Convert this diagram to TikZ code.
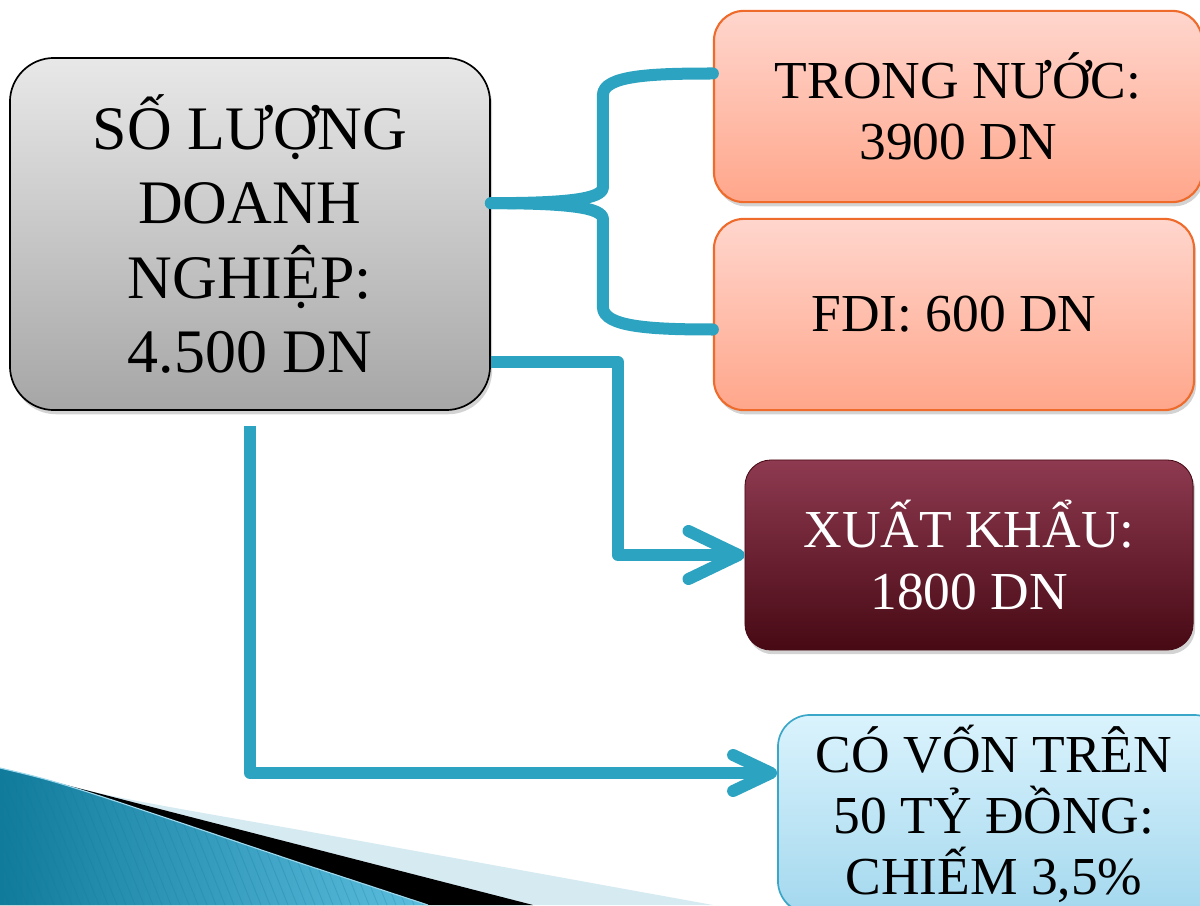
\documentclass[tikz,border=0pt]{standalone}
\usepackage{fontspec}
\setmainfont{Liberation Serif}
\usetikzlibrary{arrows.meta,calc,shadows}
\definecolor{linkteal}{HTML}{2CA3C0}
\definecolor{grytop}{HTML}{E8E8E8}
\definecolor{grybot}{HTML}{A6A6A6}
\definecolor{orgline}{HTML}{EE6B2B}
\definecolor{orgtop}{HTML}{FFD6CD}
\definecolor{orgbot}{HTML}{FFA68B}
\definecolor{martop}{HTML}{8E3A50}
\definecolor{marbot}{HTML}{470914}
\definecolor{skyline}{HTML}{3AA6C8}
\definecolor{skytop}{HTML}{DAF3FD}
\definecolor{skybot}{HTML}{A4D8EE}
\definecolor{decolight}{HTML}{D6EAF2}
\definecolor{decodark}{HTML}{117B9C}
\definecolor{decomid}{HTML}{5CBEDF}
\newcommand{\maintxt}{\fontsize{44}{53}\selectfont}
\newcommand{\boxtxt}{\fontsize{38}{43.5}\selectfont}
\tikzset{
  basebox/.style={rounded corners=0.75cm, align=center, inner sep=0pt,
                  drop shadow={opacity=0.35, shadow xshift=1.5pt, shadow yshift=-3pt}},
  graybox/.style={basebox, draw=black, line width=1.2pt, rounded corners=1.1cm,
                  top color=grytop, bottom color=grybot, font=\maintxt},
  salmonbox/.style={basebox, draw=orgline, line width=1.5pt,
                    top color=orgtop, bottom color=orgbot, font=\boxtxt},
  wine/.style={basebox, draw=marbot, line width=0.6pt, rounded corners=0.65cm,
               top color=martop, bottom color=marbot, text=white, font=\boxtxt},
  skybox/.style={basebox, draw=skyline, line width=1.2pt,
                 top color=skytop, bottom color=skybot, font=\boxtxt},
  link/.style={draw=linkteal, line width=0.3cm, line join=round},
  bigtip/.style={-{Straight Barb[length=1.25cm, width=1.2cm, round]}},
  smalltip/.style={-{Straight Barb[length=0.95cm, width=0.9cm, round]}}}

\begin{document}
\begin{tikzpicture}[x=0.025cm, y=-0.025cm]
  \useasboundingbox (0,0) rectangle (1200,905);

  % corner ornament
  \fill[decolight] (0,768) .. controls (100,795) .. (300,830) -- (713,905) -- (0,905) -- cycle;
  \fill[black] (0,768) -- (533,905) -- (0,905) -- cycle;
  \begin{scope}
    \clip (0,768) .. controls (60,782) .. (300,863) -- (428,905) -- (0,905) -- cycle;
    \shade[left color=decodark, right color=decomid] (0,760) rectangle (430,905);
    \foreach \k in {-400,-391,...,430}
      \draw[decodark, opacity=0.25, line width=0.6pt] (\k,760) -- ++(58,145);
  \end{scope}
  \draw[decomid!60!white, line width=0.8pt] (0,768) .. controls (60,782) .. (300,863) -- (428,905);

  \node[graybox, minimum width=12cm, minimum height=8.8cm] (main) at (250,234)
    {SỐ LƯỢNG\\DOANH\\NGHIỆP:\\4.500 DN};
  \node[salmonbox, minimum width=12.2cm, minimum height=4.78cm] (trong) at (958,106.5)
    {TRONG NƯỚC:\\3900 DN};
  \node[salmonbox, minimum width=12cm, minimum height=4.78cm] (fdi) at (954,314.5)
    {FDI: 600 DN};
  \node[wine, minimum width=11.2cm, minimum height=4.75cm] (xuat) at (969,555)
    {XUẤT KHẨU:\\1800 DN};
  \node[skybox, minimum width=11.2cm, minimum height=4.95cm, rounded corners=0.8cm] (von) at (1002,814)
    {\hspace*{-0.4cm}CÓ VỐN TRÊN\\\hspace*{-0.4cm}50 TỶ ĐỒNG:\\\hspace*{-0.4cm}CHIẾM 3,5\%};

  \coordinate (s) at (main.east |- trong.south);
  \draw[link, line cap=round] (s) .. controls +(75,0) and +(0,12) .. ++(112,-16)
    -- ++(0,-92) .. controls +(0,-20) and +(-60,0) .. ($(trong.west)+(0,-33)$);
  \draw[link, line cap=round] (s) .. controls +(75,0) and +(0,-12) .. ++(112,16)
    -- ++(0,88) .. controls +(0,20) and +(-60,0) .. ($(fdi.west)+(0,15)$);
  \draw[link, bigtip] ($(main.east)+(0,128)$) -- ++(127,0) |- (xuat.west);
  \draw[link, smalltip] ($(main.south)+(0,15)$) |- ($(von.west)+(0,-41)$);
\end{tikzpicture}
\end{document}
